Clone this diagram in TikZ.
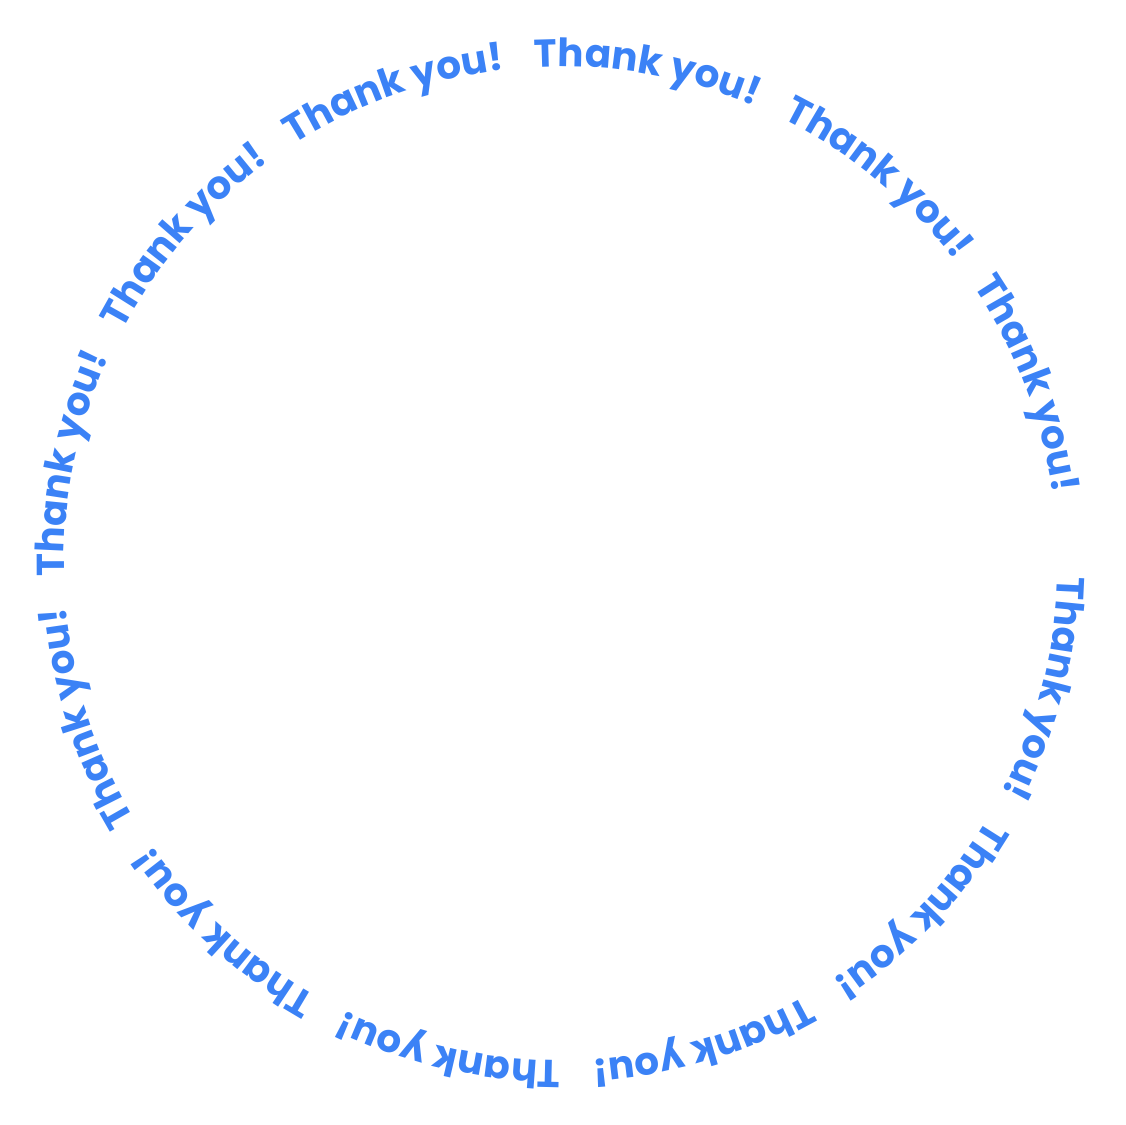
\documentclass[tikz,border=0pt]{standalone}
\usepackage{fontspec}
\setmainfont{Poppins}
\usetikzlibrary{decorations.text}
\definecolor{tyblue}{RGB}{59,130,246}

\begin{document}
\begin{tikzpicture}[x=1pt,y=1pt]
  \useasboundingbox (-561,-560.5) rectangle (565,563.5);
  \foreach \k in {0,...,11}{
    \pgfmathsetmacro\sa{-1.5-29.5*\k}
    \path[decorate,decoration={text along path,text color=tyblue,
      text={|\fontsize{38.9}{46}\selectfont\bfseries|Thank you!}}]
      (\sa:497) arc[start angle=\sa, end angle=\sa-29, radius=497];
  }
\end{tikzpicture}
\end{document}
